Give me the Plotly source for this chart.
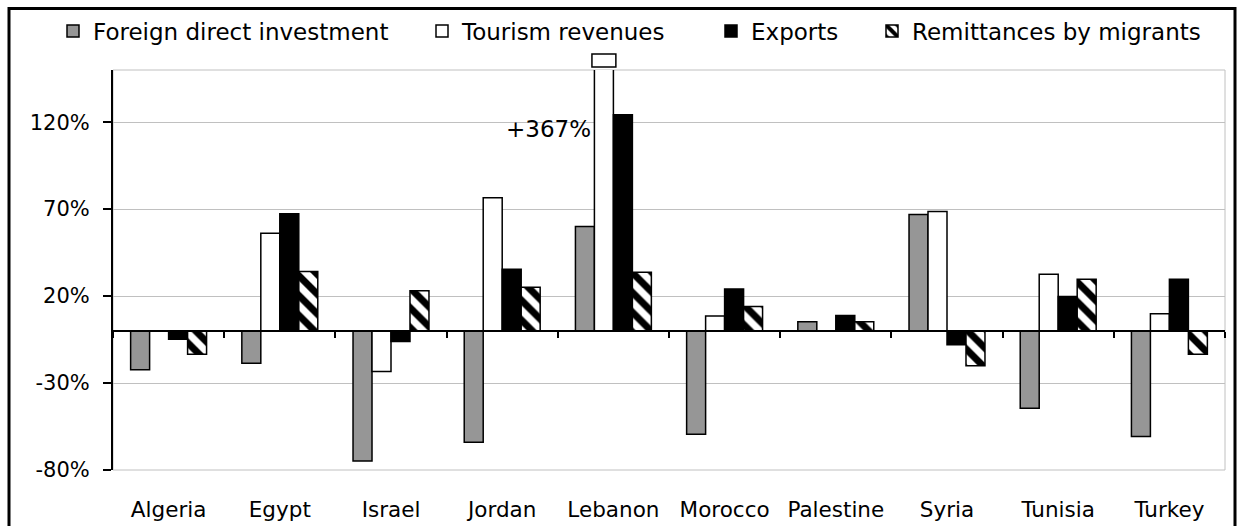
import plotly.graph_objects as go

countries = ["Algeria", "Egypt", "Israel", "Jordan", "Lebanon",
             "Morocco", "Palestine", "Syria", "Tunisia", "Turkey"]
fdi = [-22.4, -18.6, -74.8, -64.0, 60.0, -59.4, 5.2, 66.9, -44.5, -60.8]
tourism = [None, 56.2, -23.4, 76.6, 367.0, 8.6, None, 68.6, 32.6, 9.8]
exports = [-4.8, 67.3, -6.1, 35.5, 124.2, 24.1, 8.8, -8.0, 19.7, 29.7]
remittances = [-13.4, 34.1, 23.0, 25.1, 33.7, 14.0, 5.2, -20.1, 29.7, -13.4]

series_names = ["Foreign direct investment", "Tourism revenues", "Exports",
                "Remittances by migrants"]
y_ticks = [-80, -30, 20, 70, 120]
y_range = [-80, 150]

FONT = "DejaVu Sans"
BAR_GAP = 0.317
W, H = 1245, 526
M_L, M_R, M_T, M_B = 113, 20, 70, 56
PW, PH = W - M_L - M_R, H - M_T - M_B


def px_x(p):
    return (p - M_L) / PW


def px_y(p):
    return (H - M_B - p) / PH


line = dict(color="black", width=1.5)
fig = go.Figure()
fig.add_bar(x=countries, y=fdi, name=series_names[0],
            marker=dict(color="#969696", line=line), legend="legend")
fig.add_bar(x=countries, y=tourism, name=series_names[1],
            marker=dict(color="white", line=line), legend="legend2")
fig.add_bar(x=countries, y=exports, name=series_names[2],
            marker=dict(color="black", line=line), legend="legend3")
fig.add_bar(x=countries, y=remittances, name=series_names[3],
            marker=dict(color="white", line=line,
                        pattern=dict(shape="\\", fgcolor="black", bgcolor="white",
                                     fgopacity=1, size=14, solidity=0.5)),
            legend="legend4")
# carrier trace for the zero-level category axis with boundary ticks
fig.add_scatter(x=countries, y=[None] * len(countries), xaxis="x2",
                showlegend=False, hoverinfo="skip")

# broken-bar marker and value label for the truncated tourism bar
cat_i = countries.index("Lebanon")
bar_w = (1 - BAR_GAP) / 4
t_center = cat_i - (1 - BAR_GAP) / 2 + 1.5 * bar_w
fig.add_shape(type="rect", xref="x", yref="paper",
              x0=t_center - bar_w * 0.63, x1=t_center + bar_w * 0.63,
              y0=1 + 3 / PH, y1=1 + 16 / PH,
              line=dict(color="black", width=1.5), fillcolor="white")
fig.add_annotation(x=t_center - bar_w / 2, y=116, xref="x", yref="y",
                   text=f"+{tourism[cat_i]:.0f}%", showarrow=False,
                   xanchor="right", yanchor="middle", xshift=-1,
                   font=dict(family=FONT, size=23, color="black"))

# plot-area frame and outer border
fig.add_shape(type="rect", xref="paper", yref="paper", x0=0, x1=1, y0=0, y1=1,
              line=dict(color="#c0c0c0", width=1), layer="below")
fig.add_shape(type="rect", xref="paper", yref="paper",
              x0=px_x(9), x1=px_x(1235), y0=px_y(540), y1=px_y(8.5),
              line=dict(color="black", width=3))

legend_common = dict(orientation="h", yanchor="middle", y=px_y(31),
                     xanchor="left", bgcolor="rgba(0,0,0,0)",
                     font=dict(family=FONT, size=23, color="black"))
fig.update_layout(
    width=W, height=H,
    margin=dict(l=M_L, r=M_R, t=M_T, b=M_B, autoexpand=False),
    paper_bgcolor="white", plot_bgcolor="white",
    barmode="group", bargap=BAR_GAP, bargroupgap=0,
    font=dict(family=FONT, size=21, color="black"),
    legend=dict(x=px_x(53), **legend_common),
    legend2=dict(x=px_x(422), **legend_common),
    legend3=dict(x=px_x(711), **legend_common),
    legend4=dict(x=px_x(872), **legend_common),
    xaxis=dict(type="category", categoryarray=countries, range=[-0.5, 9.5],
               automargin=False,
               showline=False, showgrid=False, ticks="", ticklabelstandoff=24,
               tickfont=dict(family=FONT, size=21.5, color="black")),
    xaxis2=dict(type="category", categoryarray=countries, range=[-0.5, 9.5],
                overlaying="x", anchor="free", automargin=False,
                position=(0 - y_range[0]) / (y_range[1] - y_range[0]),
                side="bottom", showline=True, linecolor="black", linewidth=2,
                ticks="outside", tickson="boundaries", ticklen=6, tickwidth=1.5,
                tickcolor="black", showticklabels=False, showgrid=False),
    yaxis=dict(range=y_range, tickvals=y_ticks, automargin=False,
               ticktext=[f"{v}%" for v in y_ticks],
               showgrid=True, gridcolor="#c0c0c0", gridwidth=1,
               zeroline=False, showline=True, linecolor="black", linewidth=2,
               ticks="outside", ticklen=8, tickwidth=1.5, tickcolor="black",
               ticklabelstandoff=9,
               tickfont=dict(family=FONT, size=21, color="black")),
)

fig.write_html("out.html")
